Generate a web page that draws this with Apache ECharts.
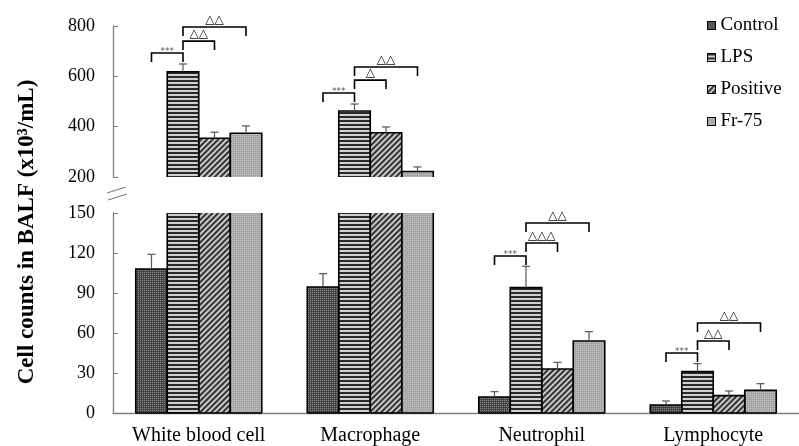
<!DOCTYPE html>
<html>
<head>
<meta charset="utf-8">
<script src="https://cdn.jsdelivr.net/npm/echarts@6/dist/echarts.min.js"></script>
<style>
  html, body { margin: 0; padding: 0; background: #fff; }
  #chart { width: 799px; height: 446px; }
</style>
</head>
<body>
<div id="chart"></div>
<script>
// cell types on the x axis
const categories = ['White blood cell', 'Macrophage', 'Neutrophil', 'Lymphocyte'];
const groups = ['Control', 'LPS', 'Positive', 'Fr-75'];

// means and SD (x10^3/mL)
const controlMean = [108, 94.5, 12, 6];
const controlErr = [11, 10, 4, 3];
const lpsMean = [618, 462, 94, 31];
const lpsErr = [31, 28, 16, 6];
const positiveMean = [354, 376, 33, 13];
const positiveErr = [24, 23, 5, 3.5];
const fr75Mean = [374, 222, 54, 17];
const fr75Err = [29, 18, 7, 5];

// y tick values of the two panels
const topTicks = [200, 400, 600, 800];
const bottomTicks = [0, 30, 60, 90, 120, 150];

// significance brackets: [category, from group, to group, level, label]
const sigTop = [
  [0, 0, 1, 693, '***'], [0, 1, 2, 740, '△△'], [0, 1, 3, 796, '△△'],
  [1, 0, 1, 534, '***'], [1, 1, 2, 585, '△'], [1, 1, 3, 637, '△△']
];
const sigBottom = [
  [2, 0, 1, 117.8, '***'], [2, 1, 2, 127.5, '△△△'], [2, 1, 3, 142.5, '△△'],
  [3, 0, 1, 45, '***'], [3, 1, 2, 54, '△△'], [3, 1, 3, 67.5, '△△']
];

const BAR_W = 31.5;
const LEG = 9;
const SERIF = 'Liberation Serif';

const means = [controlMean, lpsMean, positiveMean, fr75Mean];
const errs = [controlErr, lpsErr, positiveErr, fr75Err];
const panelMin = [topTicks[0], bottomTicks[0]];
const panelMax = [topTicks[topTicks.length - 1], bottomTicks[bottomTicks.length - 1]];

// fill patterns for each group
const styles = [
  { color: '#444', decal: { symbol: 'rect', symbolSize: 1, dashArrayX: [1, 1], dashArrayY: [1, 1], color: '#8c8c8c' } },
  { color: '#d0d0d0', decal: { symbol: 'rect', symbolSize: 1, dashArrayX: [1, 0], dashArrayY: [1.4, 1.4], color: '#2a2a2a' } },
  { color: '#c8c8c8', decal: { symbol: 'rect', symbolSize: 1, rotation: -Math.PI / 4, dashArrayX: [1, 0], dashArrayY: [1.2, 1.3], color: '#333' } },
  { color: '#a4a4a4', decal: { symbol: 'rect', symbolSize: 1, dashArrayX: [1, 1], dashArrayY: [1, 1], color: '#c6c6c6' } }
];

const chart = echarts.init(document.getElementById('chart'));

function barSeries(g, panel) {
  return {
    name: groups[g],
    type: 'bar',
    xAxisIndex: panel,
    yAxisIndex: panel,
    barWidth: BAR_W,
    barGap: 0,
    clip: true,
    itemStyle: Object.assign({ borderWidth: 0 }, styles[g]),
    // top panel only needs the tall bars
    data: means[g].map(v => (panel === 0 && v < panelMin[0]) ? '-' : v)
  };
}

// black outlines of the bars, left open where the axis break cuts them
function outlineSeries(panel) {
  const data = [];
  for (let g = 0; g < 4; g++) {
    for (let c = 0; c < categories.length; c++) {
      if (panel === 0 && means[g][c] < panelMin[0]) continue;
      data.push([c, means[g][c], g]);
    }
  }
  return {
    type: 'custom',
    xAxisIndex: panel,
    yAxisIndex: panel,
    silent: true,
    z: 3,
    data: data,
    renderItem(params, api) {
      const v = api.value(1), g = api.value(2);
      const b = api.coord([api.value(0), panelMin[panel]]);
      const t = api.coord([api.value(0), Math.min(v, panelMax[panel])]);
      const xl = b[0] + (g - 2) * BAR_W, xr = xl + BAR_W;
      const st = { stroke: '#000', lineWidth: 1.6, fill: null };
      const kids = [];
      if (v > panelMax[panel]) {
        kids.push({ type: 'line', shape: { x1: xl, y1: b[1], x2: xl, y2: t[1] }, style: st });
        kids.push({ type: 'line', shape: { x1: xr, y1: b[1], x2: xr, y2: t[1] }, style: st });
      } else {
        kids.push({ type: 'polyline', shape: { points: [[xl, b[1]], [xl, t[1]], [xr, t[1]], [xr, b[1]]] }, style: st });
      }
      if (panel === 1) {
        kids.push({ type: 'line', shape: { x1: xl, y1: b[1], x2: xr, y2: b[1] }, style: st });
      }
      return { type: 'group', children: kids };
    }
  };
}

function errorSeries(panel) {
  const data = [];
  for (let g = 0; g < 4; g++) {
    for (let c = 0; c < categories.length; c++) {
      const v = means[g][c], e = errs[g][c];
      if (panel === 0 && v < panelMin[0]) continue;
      if (panel === 1 && v > panelMax[1]) continue;
      data.push([c, v, v + e, g]);
    }
  }
  return {
    type: 'custom',
    xAxisIndex: panel,
    yAxisIndex: panel,
    silent: true,
    z: 3,
    data: data,
    renderItem(params, api) {
      const g = api.value(3);
      const lo = api.coord([api.value(0), api.value(1)]);
      const hi = api.coord([api.value(0), api.value(2)]);
      const x = lo[0] + (g - 1.5) * BAR_W;
      const st = { stroke: '#555', lineWidth: 1.2 };
      return {
        type: 'group',
        children: [
          { type: 'line', shape: { x1: x, y1: lo[1], x2: x, y2: hi[1] }, style: st },
          { type: 'line', shape: { x1: x - 4, y1: hi[1], x2: x + 4, y2: hi[1] }, style: st }
        ]
      };
    }
  };
}

function bracketSeries(list, panel) {
  return {
    type: 'custom',
    xAxisIndex: panel,
    yAxisIndex: panel,
    silent: true,
    clip: false,
    z: 4,
    data: list.map(s => [s[0], s[3], s[1], s[2]]),
    renderItem(params, api) {
      const p = api.coord([api.value(0), api.value(1)]);
      const x1 = p[0] + (api.value(2) - 1.5) * BAR_W;
      const x2 = p[0] + (api.value(3) - 1.5) * BAR_W;
      const label = list[params.dataIndex][4];
      const stars = label === '***';
      return {
        type: 'group',
        children: [
          {
            type: 'polyline',
            shape: { points: [[x1, p[1] + LEG], [x1, p[1]], [x2, p[1]], [x2, p[1] + LEG]] },
            style: { stroke: '#000', lineWidth: 1.6, fill: null }
          },
          {
            type: 'text',
            style: {
              text: label,
              x: (x1 + x2) / 2,
              y: stars ? p[1] + 3 : p[1] - 1,
              align: 'center',
              verticalAlign: 'bottom',
              fill: stars ? '#555' : '#000',
              font: stars ? '9px DejaVu Sans' : '12px DejaVu Sans'
            }
          }
        ]
      };
    }
  };
}

const axisGray = '#7f7f7f';

const option = {
  animation: false,
  backgroundColor: '#fff',
  grid: [
    { left: 113, top: 26, height: 151, right: -6 },
    { left: 113, top: 213, height: 200, right: -6 }
  ],
  legend: {
    orient: 'vertical',
    left: 702,
    top: 11,
    itemWidth: 8,
    itemHeight: 8,
    itemGap: 13,
    icon: 'rect',
    data: groups,
    itemStyle: { borderColor: '#000', borderWidth: 1 },
    textStyle: { fontFamily: SERIF, fontSize: 19, color: '#000', padding: [0, 0, 0, 0] }
  },
  xAxis: [
    { type: 'category', gridIndex: 0, data: categories, show: false },
    {
      type: 'category', gridIndex: 1, data: categories,
      axisLine: { lineStyle: { color: axisGray, width: 1.3 } },
      axisTick: { inside: true, length: 4, lineStyle: { color: axisGray } },
      axisLabel: { interval: 0, fontFamily: SERIF, fontSize: 20, color: '#000', margin: 13 }
    }
  ],
  yAxis: [
    {
      type: 'value', gridIndex: 0,
      min: panelMin[0], max: panelMax[0], interval: 200,
      splitLine: { show: false },
      axisLine: { show: true, lineStyle: { color: axisGray, width: 1.3 } },
      axisTick: { show: true, inside: true, length: 5, lineStyle: { color: axisGray } },
      axisLabel: { fontFamily: SERIF, fontSize: 18, color: '#000', margin: 18 }
    },
    {
      type: 'value', gridIndex: 1,
      min: panelMin[1], max: panelMax[1], interval: 30,
      splitLine: { show: false },
      axisLine: { show: true, lineStyle: { color: axisGray, width: 1.3 } },
      axisTick: { show: true, inside: true, length: 5, lineStyle: { color: axisGray } },
      axisLabel: { fontFamily: SERIF, fontSize: 18, color: '#000', margin: 18 }
    }
  ],
  graphic: [
    {
      type: 'text',
      x: 27, y: 232,
      rotation: Math.PI / 2,
      style: {
        text: 'Cell counts in BALF (x10³/mL)',
        font: 'bold 23px Liberation Serif',
        fill: '#000',
        align: 'center',
        verticalAlign: 'middle'
      }
    },
    // axis break marks
    { type: 'line', shape: { x1: 107, y1: 193, x2: 126, y2: 187 }, style: { stroke: axisGray, lineWidth: 1.3 } },
    { type: 'line', shape: { x1: 108, y1: 200, x2: 127, y2: 194 }, style: { stroke: axisGray, lineWidth: 1.3 } }
  ],
  series: [
    barSeries(0, 0), barSeries(1, 0), barSeries(2, 0), barSeries(3, 0),
    barSeries(0, 1), barSeries(1, 1), barSeries(2, 1), barSeries(3, 1),
    outlineSeries(0), outlineSeries(1),
    errorSeries(0), errorSeries(1),
    bracketSeries(sigTop, 0), bracketSeries(sigBottom, 1)
  ]
};

chart.setOption(option);
</script>
</body>
</html>
